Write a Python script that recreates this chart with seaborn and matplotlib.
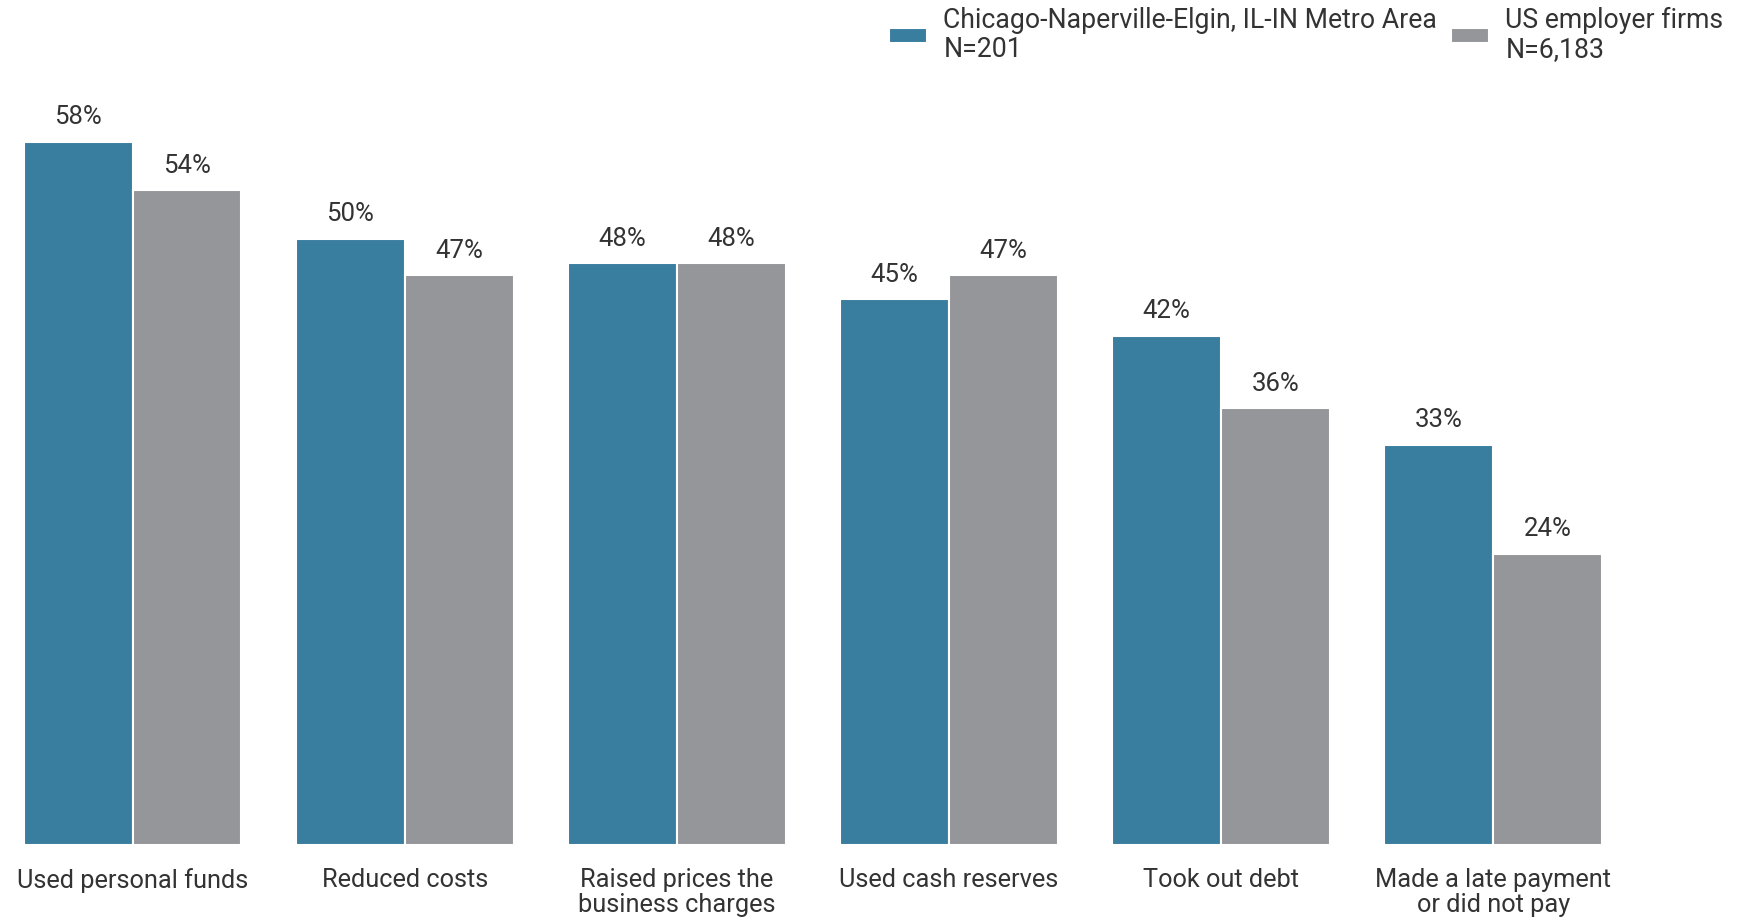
import pandas as pd
import numpy as np
import matplotlib.pyplot as plt
import seaborn as sns

# 数据
categories = ['Used personal funds', 'Reduced costs', 'Raised prices the\nbusiness charges',
              'Used cash reserves', 'Took out debt', 'Made a late payment\nor did not pay']
chicago_vals = [58, 50, 48, 45, 42, 33]
us_vals = [54, 47, 48, 47, 36, 24]
series_names = ['Chicago-Naperville-Elgin, IL-IN Metro Area\nN=201', 'US employer firms\nN=6,183']
colors = ['#397D9F', '#95969A']

df = pd.DataFrame({
    'category': categories * 2,
    'series': [series_names[0]] * len(categories) + [series_names[1]] * len(categories),
    'value': chicago_vals + us_vals,
})

sns.set_theme(style='white')
plt.rcParams['font.family'] = ['Roboto', 'DejaVu Sans']
text_color = '#333333'

fig = plt.figure(figsize=(17.37, 9.21), dpi=100)
ax = fig.add_axes([-0.002, 0.083, 0.94, 0.809])

sns.barplot(data=df, x='category', y='value', hue='series', palette=colors,
            saturation=1, width=0.8, edgecolor='white', linewidth=1.5, ax=ax, legend=True)

for cont in ax.containers:
    ax.bar_label(cont, labels=[f'{v:.0f}%' for v in cont.datavalues],
                 padding=9, fontsize=18.5, color=text_color)

ax.set_ylim(0, 61.5)
ax.set_xlim(-0.5, 5.5)
ax.set_xlabel('')
ax.set_ylabel('')
ax.set_yticks([])
ax.tick_params(axis='x', length=0, pad=17, labelsize=18.3, labelcolor=text_color)
for lbl in ax.get_xticklabels():
    lbl.set_linespacing(1.05)
sns.despine(ax=ax, left=True, bottom=True)

handles, labels = ax.get_legend_handles_labels()
ax.get_legend().remove()
leg = fig.legend(handles, labels, loc='upper right', bbox_to_anchor=(1.006, 1.019), ncol=2,
                 frameon=False, fontsize=19.2, handlelength=1.45, handleheight=0.45,
                 handletextpad=0.6, columnspacing=0.5, labelspacing=0.2)
for t in leg.get_texts():
    t.set_color(text_color)
    t.set_linespacing(1.1)

plt.savefig('out.png', dpi=100)
plt.close()
